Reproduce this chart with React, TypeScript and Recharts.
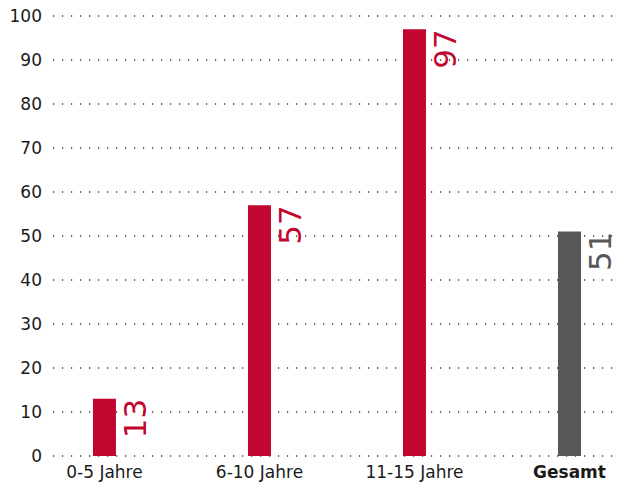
import React from "react";
import { BarChart, Bar, XAxis, YAxis, CartesianGrid, Cell, LabelList } from "recharts";

const categories = ["0-5 Jahre", "6-10 Jahre", "11-15 Jahre", "Gesamt"];
const values = [13, 57, 97, 51];
const colors = ["#c1062f", "#c1062f", "#c1062f", "#575757"];
const yTicks = [0, 10, 20, 30, 40, 50, 60, 70, 80, 90, 100];

const data = categories.map((c, i) => ({ idx: i, name: c, value: values[i] }));

const FONT = "'DejaVu Sans', 'Noto Sans', sans-serif";

const XTick = (props: any) => {
  const { x, y, payload } = props;
  const i = payload.value as number;
  const bold = categories[i] === "Gesamt";
  return (
    <text x={x} y={y + 14} textAnchor="middle" fontFamily={FONT} fontSize={17} fontWeight={bold ? 700 : 400} fill="#1a1a1a">
      {categories[i]}
    </text>
  );
};

const ValueLabel = (props: any) => {
  const { x, y, width, value, index } = props;
  const px = x + width + 30;
  const py = y;
  return (
    <text
      x={px}
      y={py}
      textAnchor="end"
      transform={`rotate(-90, ${px}, ${py})`}
      fontFamily={FONT}
      fontSize={31}
      fill={colors[index]}
    >
      {value}
    </text>
  );
};

export default function App() {
  return (
    <div style={{ position: "absolute", left: 0, top: 0 }}>
      <BarChart width={622} height={484} data={data} margin={{ top: 16, right: 6, bottom: 0, left: 0 }}>
        <CartesianGrid vertical={false} stroke="#333" strokeWidth={1.3} strokeDasharray="1.2 7.8" />
        <XAxis
          dataKey="idx"
          type="number"
          domain={[-0.332, 3.3]}
          ticks={[0, 1, 2, 3]}
          allowDataOverflow
          axisLine={false}
          tickLine={false}
          height={28}
          tick={<XTick />}
          interval={0}
        />
        <YAxis
          domain={[0, 100]}
          ticks={yTicks}
          width={53}
          axisLine={false}
          tickLine={false}
          tickSize={0}
          tickMargin={11}
          tick={{ fontFamily: FONT, fontSize: 17, fill: "#1a1a1a" }}
          interval={0}
        />
        <Bar dataKey="value" barSize={23} isAnimationActive={false}>
          {data.map((d, i) => (
            <Cell key={i} fill={colors[i]} />
          ))}
          <LabelList dataKey="value" content={<ValueLabel />} />
        </Bar>
      </BarChart>
    </div>
  );
}
